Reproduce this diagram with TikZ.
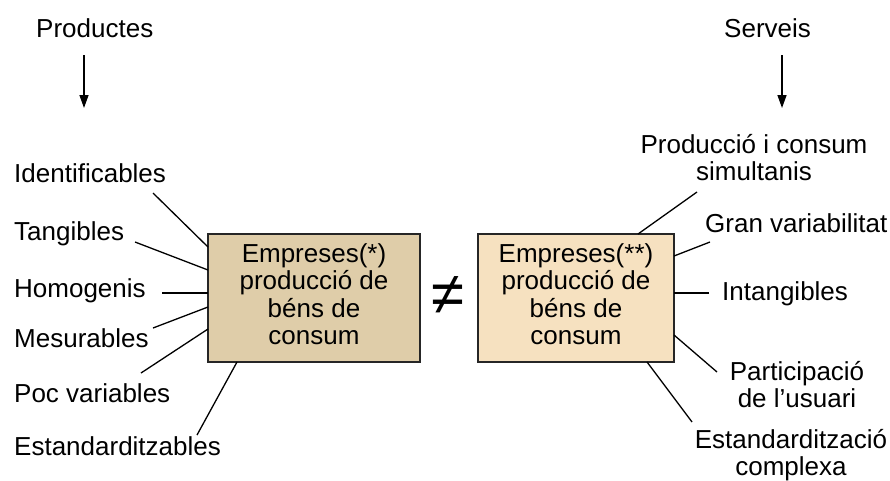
\documentclass[tikz,border=0pt]{standalone}
\usepackage{fontspec}
\setmainfont{Liberation Sans}
\usetikzlibrary{arrows.meta}
\definecolor{boxA}{RGB}{223,205,169}
\definecolor{boxB}{RGB}{246,225,192}
\tikzset{
  lbl/.style={anchor=base west, inner sep=0pt, font=\fontsize{26}{27}\selectfont},
  lblc/.style={anchor=base, inner sep=0pt, font=\fontsize{26}{27}\selectfont},
  company/.style={draw=black!85, line width=1.6pt, minimum width=#1, minimum height=128pt, inner sep=0pt, font=\fontsize{26}{27}\selectfont},
  conn/.style={line width=1.3pt},
  down/.style={line width=1.4pt, -{Triangle[length=13pt,width=9pt]}}
}
\newcommand{\mlines}[2][c]{\begin{tabular}[#1]{@{}c@{}}#2\end{tabular}}
\begin{document}
\begin{tikzpicture}[x=1pt,y=-1pt]
\useasboundingbox (0,0) rectangle (890,480);
% top labels and arrows
\node[lbl] (prod) at (36,37) {Productes};
\node[lbl] (serv) at (724,37) {Serveis};
\coordinate (pa) at (84,55);
\coordinate (pb) at (84,108);
\coordinate (sa) at (782,55);
\coordinate (sb) at (782,108);
\draw[down] (pa) -- (pb);
\draw[down] (sa) -- (sb);
% boxes
\node[company=212pt, fill=boxA] (lb) at (314,298) {\mlines{Empreses(*)\\producció de\\béns de\\consum}};
\node[company=196pt, fill=boxB] (rb) at (576,298) {\mlines{Empreses(**)\\producció de\\béns de\\consum}};
\node[inner sep=0pt, font=\fontsize{60}{60}\selectfont] (neq) at (448,296) {≠};
% left labels
\node[lbl] (l1) at (14,182) {Identificables};
\node[lbl] (l2) at (14,240) {Tangibles};
\node[lbl] (l3) at (14,297) {Homogenis};
\node[lbl] (l4) at (14,347) {Mesurables};
\node[lbl] (l5) at (14,402) {Poc variables};
\node[lbl] (l6) at (14,455) {Estandarditzables};
% right labels
\node[lblc] (r1) at (754,153) {\mlines[t]{Producció i consum\\simultanis}};
\node[lbl] (r2) at (705,232) {Gran variabilitat};
\node[lbl] (r3) at (722,300) {Intangibles};
\node[lblc] (r4) at (797,380) {\mlines[t]{Participació\\de l’usuari}};
\node[lblc] (r5) at (791,448) {\mlines[t]{Estandardització\\complexa}};
% left connectors
\coordinate (l1e) at (153,193); \coordinate (l1b) at (208,247);
\coordinate (l2e) at (135,242); \coordinate (l2b) at (208,270);
\coordinate (l3e) at (162,293); \coordinate (l3b) at (208,293);
\coordinate (l4e) at (153,328); \coordinate (l4b) at (208,307);
\coordinate (l5e) at (141,373); \coordinate (l5b) at (208,329);
\coordinate (l6e) at (197,435); \coordinate (l6b) at (237,362);
\foreach \i in {1,...,6} \draw[conn] (l\i e) -- (l\i b);
% right connectors
\coordinate (r1e) at (697,192); \coordinate (r1b) at (638,234);
\coordinate (r2e) at (710,242); \coordinate (r2b) at (674,256);
\coordinate (r3e) at (709,293); \coordinate (r3b) at (674,293);
\coordinate (r4e) at (717,372); \coordinate (r4b) at (674,335);
\coordinate (r5e) at (692,422); \coordinate (r5b) at (647,362);
\foreach \i in {1,...,5} \draw[conn] (r\i e) -- (r\i b);
\end{tikzpicture}
\end{document}
